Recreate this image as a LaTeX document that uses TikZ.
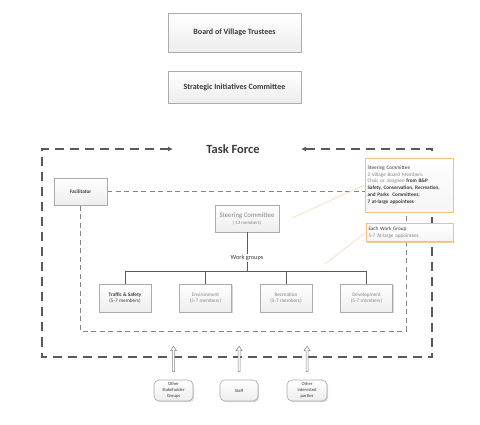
\documentclass[tikz,border=0pt]{standalone}
\usepackage{fontspec}
\setmainfont{Carlito}
\usetikzlibrary{shadows,arrows.meta,calc}
\definecolor{dk}{HTML}{3A3A3A}
\definecolor{md}{HTML}{858585}
\definecolor{bd}{HTML}{ABABAB}
\definecolor{dl}{HTML}{5A5A5A}
\definecolor{org}{HTML}{F6BE78}
\definecolor{beige}{HTML}{F6DEC4}
\pgfdeclarelayer{bg}
\pgfsetlayers{bg,main}
\tikzset{
  box/.style={draw=bd, line width=0.6pt, top color=white, bottom color=gray!14,
    drop shadow={shadow xshift=1.2pt, shadow yshift=-1.2pt, fill=gray!45, opacity=0.7},
    inner sep=1pt, align=center, text=dk},
  bigbox/.style={box, minimum width=133pt, font=\fontsize{8}{9.5}\selectfont\bfseries},
  wbox/.style={box, minimum width=52pt, minimum height=28pt, text=md,
    font=\fontsize{5.2}{6.5}\selectfont},
  rbox/.style={box, rounded corners=5pt, minimum height=21pt,
    font=\fontsize{4.6}{5.8}\selectfont},
  callout/.style={draw=org, line width=0.6pt, top color=white, bottom color=gray!8,
    drop shadow={shadow xshift=1.2pt, shadow yshift=-1.2pt, fill=org, opacity=0.8},
    align=left, text=dk, font=\fontsize{5.2}{6.7}\selectfont, inner xsep=2.5pt},
  outerdash/.style={draw=dl, line width=1.5pt, dash pattern=on 9pt off 6pt,
    >={Latex[length=5pt,width=5pt]}},
  innerdash/.style={draw=md, line width=0.8pt, dash pattern=on 5pt off 3.5pt},
  tree/.style={draw=dl, line width=0.8pt},
  callline/.style={draw=beige, line width=0.8pt},
  hollow/.style={draw=md, fill=white, line width=0.5pt}
}
\begin{document}
\begin{tikzpicture}[x=1pt,y=1pt]
\useasboundingbox (0,0) rectangle (480,-425);

% top boxes
\node[bigbox, minimum height=39pt] (bvt) at (234.5,-32.5) {Board of Village Trustees};
\node[bigbox, minimum height=32pt] (sic) at (234.5,-87) {Strategic Initiatives Committee};

% task force title
\node[font=\fontsize{12.5}{14}\selectfont\bfseries, text=dk] (tf) at (233,-149) {Task Force};

% facilitator
\node[box, minimum width=53pt, minimum height=27pt, font=\fontsize{5.2}{6}\selectfont\bfseries] (fac) at (80.5,-191.5) {Facilitator};

% steering committee
\node[box, minimum width=64pt, minimum height=27pt, text=md, font=\fontsize{6.8}{8}\selectfont] (sc) at (247,-218.5)
  {Steering Committee\\[-1pt]{\fontsize{4.8}{5.5}\selectfont ( 13 members)}};

\node[text=dk, font=\fontsize{6.3}{7}\selectfont, inner sep=1.5pt] (wg) at (247,-258) {Work groups};

% work group boxes
\node[wbox, text=dk] (t1) at (125,-298) {\textbf{Traffic \& Safety}\\(5-7 members)};
\node[wbox] (t2) at (205.5,-298) {Environment\\(5-7 members)};
\node[wbox] (t3) at (286,-298) {Recreation\\(5-7 members)};
\node[wbox] (t4) at (366.5,-298) {Development\\(5-7 members)};

% callouts
\node[callout, text width=83pt, minimum height=54pt] (csc) at (409,-185)
  {Steering Committee\\
   \textcolor{md}{2 Village Board Members;}\\
   \textcolor{md}{Chair or assignee} \textbf{from B\&P}\\
   \textbf{Safety, Conservation, Recreation,}\\
   \textbf{and Parks~ Committees;}\\
   \textbf{7 at-large appointees}};
\node[callout, text width=82pt, minimum height=17pt] (cew) at (409.5,-232.5)
  {Each Work Group\\ \textcolor{md}{5-7 At-large appointees}};

% bottom boxes
\node[rbox, minimum width=39pt] (osg) at (173.5,-390.5) {Other\\Stakeholder\\Groups};
\node[rbox, minimum width=38pt] (stf) at (239,-390.5) {Staff};
\node[rbox, minimum width=40pt] (oip) at (307,-390.5) {Other\\interested\\parties};

% coordinates
\coordinate (oTL) at (42,-149);
\coordinate (oBL) at (42,-357);
\coordinate (oBR) at (432,-357);
\coordinate (oTR) at (432,-149);
\coordinate (aL) at (173,-149);
\coordinate (aR) at (301,-149);
\coordinate (iBR) at (406,-331);
\coordinate (iBL) at (81,-331);
\coordinate (bar) at (247,-271);
\coordinate (cl1) at (292,-218);
\coordinate (cl2) at (325,-264);

\begin{pgfonlayer}{bg}
  \draw[outerdash, <->] (aL) -- (oTL) -- (oBL) -- (oBR) -- (oTR) -- (aR);
  \draw[innerdash] (fac.east) -- (fac.east -| iBR) -- (iBR) -- (fac.south |- iBL) -- (fac.south);
  \draw[callline] (cl1) -- (csc.west);
  \draw[callline] (cl2) -- (cew.west);
\end{pgfonlayer}

% tree
\draw[tree] (sc.south) -- (wg.north);
\draw[tree] (wg.south) -- (bar);
\draw[tree] (t1.north |- bar) -- (t4.north |- bar);
\foreach \t in {t1,t2,t3,t4} \draw[tree] (\t.north |- bar) -- (\t.north);

% hollow up arrows
\foreach \b in {osg,stf,oip}
  \draw[hollow] ($(\b.north)+(-1,8)$) -- ++(0,21) -- ++(-2,0) -- ++(3,4.5) -- ++(3,-4.5) -- ++(-2,0) -- ++(0,-21) -- cycle;
\end{tikzpicture}
\end{document}
